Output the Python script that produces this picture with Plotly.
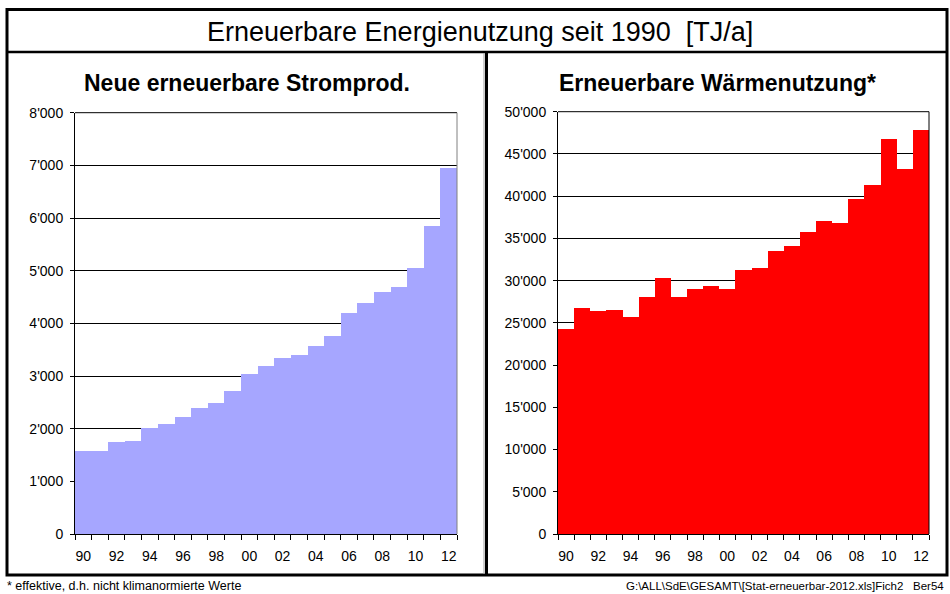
import plotly.graph_objects as go

W, H = 950, 594

years = list(range(1990, 2013))
strom = [1580, 1580, 1750, 1770, 2010, 2090, 2220, 2390, 2500, 2730,
         3040, 3200, 3340, 3410, 3570, 3760, 4210, 4400, 4600, 4700,
         5050, 5860, 6960]
waerme = [24300, 26750, 26400, 26500, 25700, 28050, 30400, 28150, 29000, 29450,
          29000, 31350, 31500, 33600, 34100, 35850, 37050, 36800, 39650, 41300,
          46850, 43300, 47900]

x_tickvals = list(range(1990, 2013, 2))
x_ticktext = ["90", "92", "94", "96", "98", "00", "02", "04", "06", "08", "10", "12"]
strom_ticks = list(range(0, 8001, 1000))
strom_ticktext = ["0", "1'000", "2'000", "3'000", "4'000", "5'000", "6'000", "7'000", "8'000"]
waerme_ticks = list(range(0, 50001, 5000))
waerme_ticktext = ["0", "5'000", "10'000", "15'000", "20'000", "25'000", "30'000",
                   "35'000", "40'000", "45'000", "50'000"]

title = "Erneuerbare Energienutzung seit 1990  [TJ/a]"
sub_left = "<b>Neue erneuerbare Stromprod.</b>"
sub_right = "<b>Erneuerbare Wärmenutzung*</b>"
foot_left = "* effektive, d.h. nicht klimanormierte Werte"
foot_right = "G:\\ALL\\SdE\\GESAMT\\[Stat-erneuerbar-2012.xls]Fich2   Ber54"

FONT = "Liberation Sans, Arial, sans-serif"


def px_x(p):
    return p / W


def px_y(p):
    return 1 - p / H


fig = go.Figure()
fig.add_trace(go.Bar(x=years, y=strom, marker=dict(color="#A6A6FF", line=dict(width=0)),
                     xaxis="x", yaxis="y", hoverinfo="x+y"))
fig.add_trace(go.Bar(x=years, y=waerme, marker=dict(color="#FF0000", line=dict(width=0)),
                     xaxis="x2", yaxis="y2", hoverinfo="x+y"))

# tick marks sit between the bars, labels under every second bar
boundaries = [y - 0.5 for y in years] + [years[-1] + 0.5]

xaxis_common = dict(
    range=[1989.5, 2012.5], tickmode="array", tickvals=x_tickvals, ticktext=x_ticktext,
    ticks="", showgrid=False, zeroline=False, showline=True, linecolor="black", linewidth=1,
    tickfont=dict(family=FONT, size=14, color="black"), ticklabelstandoff=9,
    minor=dict(tickmode="array", tickvals=boundaries, ticks="outside", ticklen=5,
               tickcolor="black", tickwidth=1, showgrid=False),
    fixedrange=True, automargin=False,
)
yaxis_common = dict(
    tickmode="array", showgrid=True, gridcolor="black", gridwidth=1, zeroline=False,
    showline=True, linecolor="black", linewidth=1, ticks="outside", ticklen=4,
    tickcolor="black", tickfont=dict(family=FONT, size=14, color="black"),
    ticklabelstandoff=4, fixedrange=True, automargin=False,
)

fig.update_layout(
    width=W, height=H,
    margin=dict(l=0, r=0, t=0, b=0, pad=0),
    paper_bgcolor="white", plot_bgcolor="white",
    showlegend=False, bargap=0,
    xaxis=dict(domain=[px_x(75), px_x(457)], anchor="y", **xaxis_common),
    yaxis=dict(domain=[px_y(534), px_y(112.7)], anchor="x", range=[0, 8000],
               tickvals=strom_ticks, ticktext=strom_ticktext, **yaxis_common),
    xaxis2=dict(domain=[px_x(558), px_x(929)], anchor="y2", **xaxis_common),
    yaxis2=dict(domain=[px_y(534), px_y(111.7)], anchor="x2", range=[0, 50000],
                tickvals=waerme_ticks, ticktext=waerme_ticktext, **yaxis_common),
)

# frame lines around the panels
shapes = [
    dict(type="rect", x0=px_x(7), x1=px_x(947), y0=px_y(575), y1=px_y(9.5),
         line=dict(color="black", width=3)),
    dict(type="line", x0=px_x(7), x1=px_x(947), y0=px_y(52), y1=px_y(52),
         line=dict(color="black", width=2.5)),
    dict(type="line", x0=px_x(484), x1=px_x(484), y0=px_y(53), y1=px_y(574),
         line=dict(color="#A0A0A0", width=1)),
    dict(type="line", x0=px_x(486.5), x1=px_x(486.5), y0=px_y(52), y1=px_y(575),
         line=dict(color="black", width=3)),
    # borders of the plot areas
    dict(type="line", x0=px_x(75), x1=px_x(457), y0=px_y(112.7), y1=px_y(112.7),
         line=dict(color="black", width=1)),
    dict(type="line", x0=px_x(457), x1=px_x(457), y0=px_y(534), y1=px_y(112.7),
         line=dict(color="#808080", width=1)),
    dict(type="line", x0=px_x(558), x1=px_x(929), y0=px_y(111.7), y1=px_y(111.7),
         line=dict(color="black", width=1)),
    dict(type="line", x0=px_x(929), x1=px_x(929), y0=px_y(534), y1=px_y(111.7),
         line=dict(color="black", width=1)),
]
for s in shapes:
    s.update(xref="paper", yref="paper")
fig.update_layout(shapes=shapes)

annotations = [
    dict(text=title, x=px_x(480), y=px_y(32), font=dict(family=FONT, size=27, color="black")),
    dict(text=sub_left, x=px_x(247), y=px_y(83), font=dict(family=FONT, size=23, color="black")),
    dict(text=sub_right, x=px_x(717), y=px_y(83), font=dict(family=FONT, size=23, color="black")),
    dict(text=foot_left, x=px_x(5), y=px_y(586), xanchor="left",
         font=dict(family=FONT, size=12.5, color="black")),
    dict(text=foot_right, x=px_x(946), y=px_y(586), xanchor="right",
         font=dict(family=FONT, size=11.5, color="black")),
]
for a in annotations:
    a.setdefault("xanchor", "center")
    a.update(xref="paper", yref="paper", yanchor="middle", showarrow=False)
fig.update_layout(annotations=annotations)

fig.write_html(
    "out.html",
    config={"displayModeBar": False},
    post_script="document.body.style.margin='0';document.body.style.overflow='hidden';",
)
